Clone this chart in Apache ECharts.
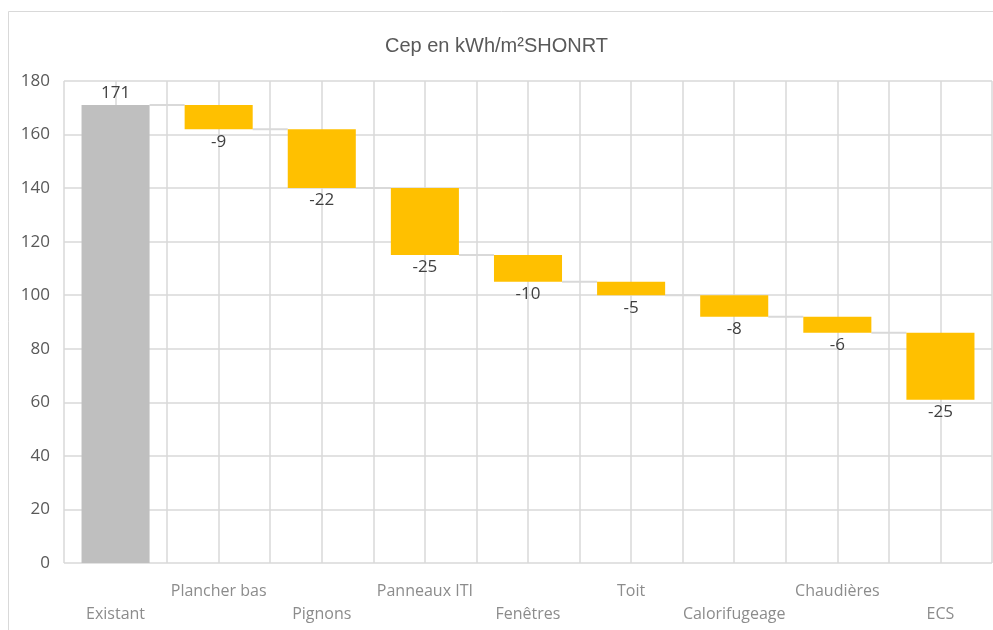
<!DOCTYPE html>
<html>
<head>
<meta charset="utf-8">
<title>Cep en kWh/m²SHONRT</title>
<script src="https://cdn.jsdelivr.net/npm/echarts@6/dist/echarts.min.js"></script>
<style>
  html, body { margin: 0; padding: 0; background: #ffffff; }
  #chart { width: 993px; height: 630px; }
</style>
</head>
<body>
<div id="chart"></div>
<script>
// Waterfall of primary energy consumption, step by step
const categories = ['Existant', 'Plancher bas', 'Pignons', 'Panneaux ITI', 'Fenêtres',
                    'Toit', 'Calorifugeage', 'Chaudières', 'ECS'];
const startValue = 171;
const deltas = [-9, -22, -25, -10, -5, -8, -6, -25];
const yTicks = { min: 0, max: 180, step: 20 };

// Running levels: level[i] is the value after step i
const levels = [startValue];
deltas.forEach(d => levels.push(levels[levels.length - 1] + d));

// Invisible base + visible block for each column
const baseData = categories.map((c, i) => i === 0 ? 0 : levels[i]);
const blockData = categories.map((c, i) => i === 0 ? startValue : -deltas[i - 1]);
const labelText = categories.map((c, i) => i === 0 ? String(startValue) : String(deltas[i - 1]));

// Connectors between consecutive columns at the running level
const connectorData = levels.slice(0, levels.length - 1).map((lv, i) => [i, lv]);

const BAR_RATIO = 0.66;
const gridColor = '#d9d9d9';
const uiFont = '"Open Sans", "Noto Sans", sans-serif';

const chart = echarts.init(document.getElementById('chart'), null, { renderer: 'canvas' });

chart.setOption({
  backgroundColor: '#ffffff',
  animation: false,
  graphic: [{
    type: 'rect',
    shape: { x: 8.5, y: 11.5, width: 1100, height: 700 },
    style: { fill: 'none', stroke: '#d9d9d9', lineWidth: 1 },
    silent: true,
    z: -10
  }],
  title: {
    text: 'Cep en kWh/m²SHONRT',
    left: 'center',
    top: 31,
    textStyle: {
      fontFamily: '"Liberation Sans", Arial, sans-serif',
      fontSize: 20,
      fontWeight: 'normal',
      color: '#595959'
    }
  },
  grid: { left: 64, right: 1, top: 81, bottom: 67, containLabel: false },
  xAxis: [{
    type: 'category',
    data: categories,
    axisLine: { show: false },
    axisTick: { show: false },
    splitLine: { show: false },
    axisLabel: {
      interval: 0,
      margin: 17,
      fontFamily: uiFont,
      fontSize: 16,
      lineHeight: 23,
      color: '#8c8c8c',
      formatter: (v, i) => (i % 2 === 0 ? '\n' + v : v)
    }
  }, {
    // hidden helper axis: vertical grid lines at every half column
    type: 'value',
    position: 'top',
    min: 0,
    max: categories.length * 2,
    interval: 1,
    axisLine: { show: false },
    axisTick: { show: false },
    axisLabel: { show: false },
    splitLine: { show: true, lineStyle: { color: gridColor, width: 1.5 } }
  }],
  yAxis: {
    type: 'value',
    min: yTicks.min,
    max: yTicks.max,
    interval: yTicks.step,
    axisLine: { show: false },
    axisTick: { show: false },
    axisLabel: {
      margin: 14,
      fontFamily: uiFont,
      fontSize: 17,
      color: '#595959'
    },
    splitLine: { show: true, lineStyle: { color: gridColor, width: 1.5 } }
  },
  series: [{
    name: 'base',
    type: 'bar',
    stack: 'wf',
    barWidth: (BAR_RATIO * 100) + '%',
    data: baseData,
    itemStyle: { color: 'transparent' },
    silent: true,
    z: 3
  }, {
    name: 'Cep',
    type: 'bar',
    stack: 'wf',
    barWidth: (BAR_RATIO * 100) + '%',
    data: blockData.map((v, i) => ({
      value: v,
      itemStyle: { color: i === 0 ? '#bfbfbf' : '#ffc000' },
      label: {
        show: true,
        position: i === 0 ? 'top' : 'bottom',
        distance: i === 0 ? 3 : 4,
        formatter: () => labelText[i]
      }
    })),
    label: {
      fontFamily: uiFont,
      fontSize: 17,
      color: '#404040'
    },
    z: 3
  }, {
    name: 'connectors',
    type: 'custom',
    silent: true,
    z: 2,
    data: connectorData,
    renderItem: (params, api) => {
      const i = api.value(0);
      const lv = api.value(1);
      const p0 = api.coord([i, lv]);
      const p1 = api.coord([i + 1, lv]);
      const w = api.size([1, 0])[0];
      const half = w * BAR_RATIO / 2;
      return {
        type: 'line',
        shape: { x1: p0[0] + half, y1: p0[1], x2: p1[0] - half, y2: p1[1] },
        style: { stroke: '#d9d9d9', lineWidth: 2 }
      };
    }
  }]
});
</script>
</body>
</html>
